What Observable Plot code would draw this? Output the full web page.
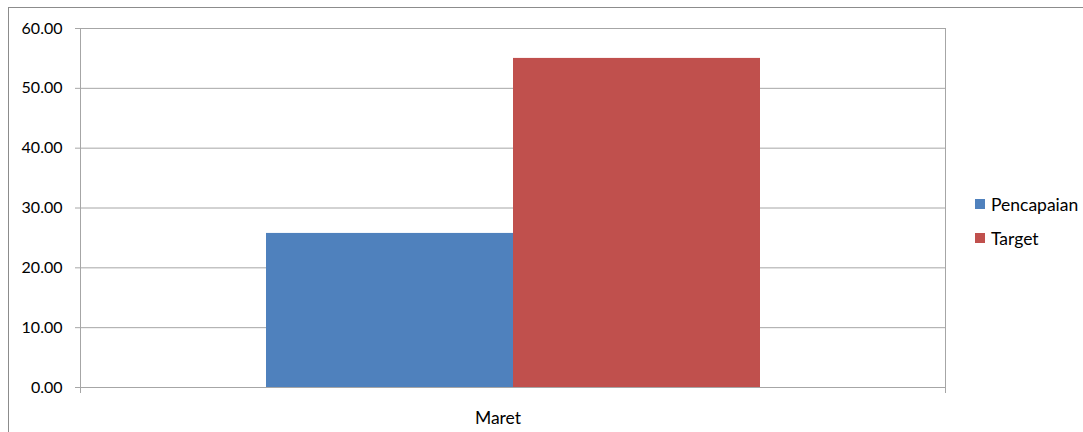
<!DOCTYPE html>
<html>
<head>
<meta charset="utf-8">
<script src="https://cdn.jsdelivr.net/npm/d3@7"></script>
<script src="https://cdn.jsdelivr.net/npm/@observablehq/plot@0.6"></script>
<style>
  html, body { margin: 0; padding: 0; overflow: hidden; background: #fff; }
  #wrap { position: relative; width: 1083px; height: 432px; font-family: Lato, "Open Sans", sans-serif; }
  #border { position: absolute; left: 8px; top: 7px; width: 1200px; height: 600px; border: 1px solid #8c8c8c; box-sizing: border-box; }
  #chart { position: absolute; left: 0; top: 0; }
  #legend { position: absolute; left: 975px; top: 187px; font-size: 17.5px; color: #000; }
  .row { display: flex; align-items: center; height: 34px; }
  .sw { width: 10px; height: 10px; margin-right: 6px; }
</style>
</head>
<body>
<div id="wrap">
  <div id="border"></div>
  <div id="chart"></div>
  <div id="legend"></div>
</div>
<script>
const categories = ["Maret"];
const series = ["Pencapaian", "Target"];
const values = [25.75, 55.0];
const colors = ["#4f81bd", "#c0504d"];
const yTicks = [0, 10, 20, 30, 40, 50, 60];

const data = series.map((s, i) => ({month: categories[0], series: s, value: values[i]}));
const gridColor = "#a6a6a6";

const chart = Plot.plot({
  width: 1083,
  height: 432,
  marginLeft: 80,
  marginRight: 138,
  marginTop: 28,
  marginBottom: 45,
  style: {fontFamily: "Lato, 'Open Sans', sans-serif", background: "transparent", color: "#000"},
  fx: {domain: categories, padding: 0, label: null},
  x: {domain: series, paddingInner: 0, paddingOuter: 0.751, axis: null},
  y: {domain: [0, 60], label: null},
  color: {domain: series, range: colors},
  marks: [
    Plot.gridY(yTicks, {stroke: gridColor, strokeOpacity: 1}),
    Plot.barY(data, {fx: "month", x: "series", y: "value", fill: "series"}),
    Plot.frame({stroke: gridColor}),
    Plot.frame({anchor: "left", insetBottom: -5, stroke: gridColor}),
    Plot.frame({anchor: "right", insetBottom: -5, stroke: gridColor}),
    Plot.axisY(yTicks, {tickFormat: d3.format(".2f"), tickSize: 5, tickPadding: 13, stroke: gridColor, fontSize: 16, fill: "#000", label: null}),
    Plot.axisFx({anchor: "bottom", tickSize: 0, tickPadding: 24, fontSize: 17.5, fill: "#000", label: null, dx: -15, style: {letterSpacing: "0.5px"}})
  ]
});
document.getElementById("chart").appendChild(chart);

const legend = document.getElementById("legend");
series.forEach((s, i) => {
  const row = document.createElement("div");
  row.className = "row";
  const sw = document.createElement("div");
  sw.className = "sw";
  sw.style.background = colors[i];
  const t = document.createElement("span");
  t.textContent = s;
  row.appendChild(sw);
  row.appendChild(t);
  legend.appendChild(row);
});
</script>
</body>
</html>
